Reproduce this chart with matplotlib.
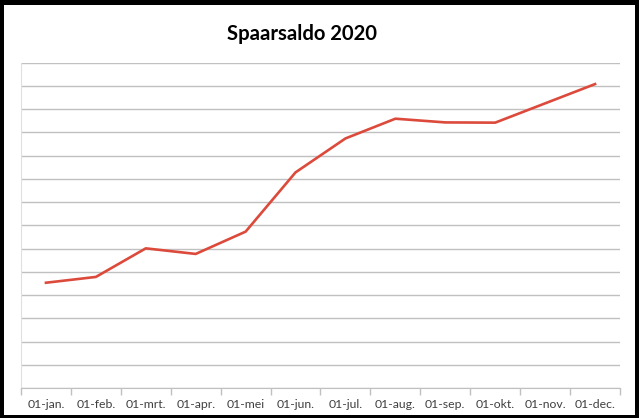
import numpy as np
import matplotlib
matplotlib.use("Agg")
import matplotlib.pyplot as plt
from matplotlib.patches import Rectangle

# spaarsaldo per maand (eenheden = gridlijnen, as zonder labels)
maanden = ["01-jan.", "01-feb.", "01-mrt.", "01-apr.", "01-mei", "01-jun.",
           "01-jul.", "01-aug.", "01-sep.", "01-okt.", "01-nov.", "01-dec."]
saldo = [4.53, 4.78, 6.01, 5.77, 6.73, 9.28, 10.74, 11.59, 11.43, 11.42, 12.25, 13.08]

W, H = 639, 418
fig = plt.figure(figsize=(W / 100, H / 100), dpi=100)
fig.patch.set_facecolor("black")

# witte kaart binnen de zwarte rand
fig.add_artist(Rectangle((4 / W, 3 / H), (W - 8) / W, (H - 8) / H,
                         transform=fig.transFigure, facecolor="white",
                         edgecolor="none", zorder=0))

ax = fig.add_axes([21 / W, 30 / H, 599 / W, 325.3 / H])
ax.set_facecolor("white")

x = np.arange(len(maanden))
ax.plot(x, saldo, color="#dc4a3c", linewidth=1.9, solid_joinstyle="round",
        zorder=3)

ax.set_xlim(-0.5, len(maanden) - 0.5)
ax.set_ylim(0, 14)
ax.set_yticks(np.arange(0, 15, 1))
ax.set_yticklabels([])
ax.tick_params(axis="y", length=0)
ax.grid(axis="y", color="#c0c0c0", linewidth=1.0)
ax.set_axisbelow(True)

ax.set_xticks(x)
ax.set_xticklabels(maanden, fontsize=8.8, color="#404040", family="Lato")
ax.set_xticks(np.arange(-0.5, len(maanden), 1), minor=True)
ax.tick_params(axis="x", which="major", length=0, pad=8)
ax.tick_params(axis="x", which="minor", length=5, color="#c0c0c0", width=1)

for s in ["top", "right"]:
    ax.spines[s].set_visible(False)
ax.spines["left"].set_color("#e0e0e0")
ax.spines["bottom"].set_color("#c0c0c0")

fig.text(302 / W, 1 - 34 / H, "Spaarsaldo 2020", ha="center", va="center",
         fontsize=14.6, fontweight="bold", family="Lato", color="black")

fig.savefig("out.png", dpi=100, facecolor=fig.get_facecolor())
